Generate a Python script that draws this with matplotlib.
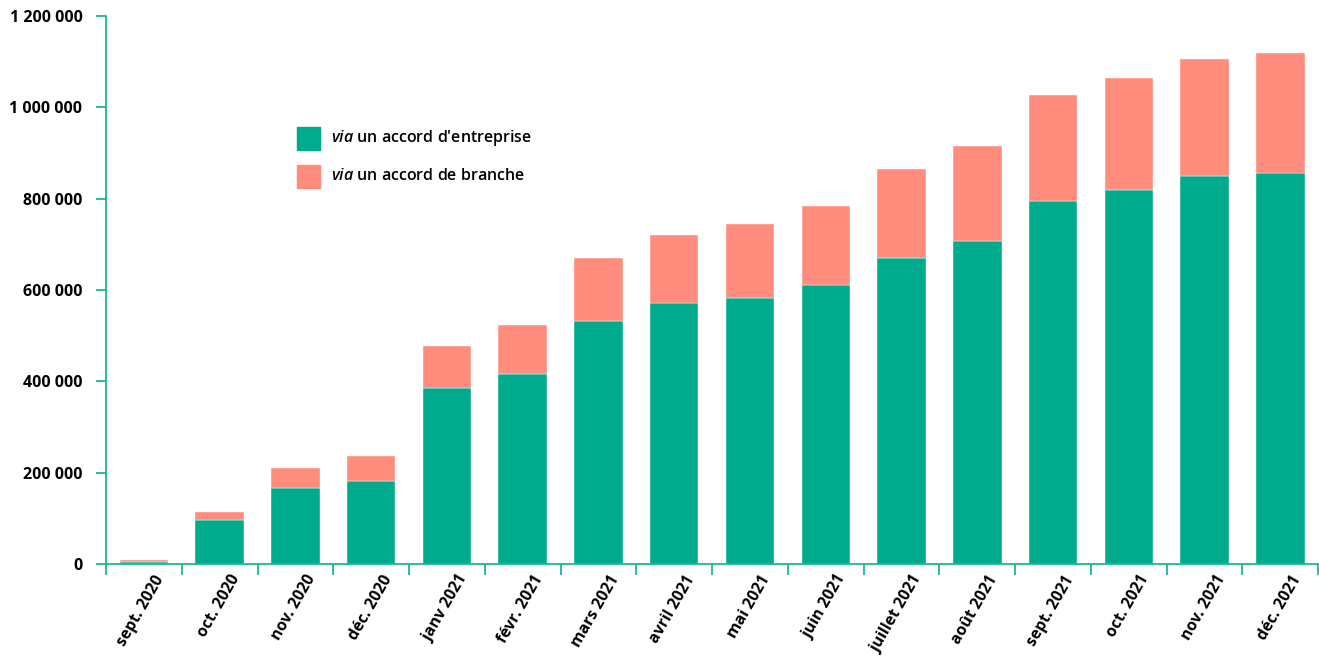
import numpy as np
import matplotlib
matplotlib.use("Agg")
import matplotlib.pyplot as plt
import matplotlib.transforms as mtransforms
from matplotlib.patches import Rectangle
from matplotlib.ticker import FuncFormatter

plt.rcParams['font.family'] = ['Open Sans', 'DejaVu Sans']
plt.rcParams['mathtext.fontset'] = 'custom'
plt.rcParams['mathtext.it'] = 'Open Sans:italic:semibold'
plt.rcParams['mathtext.rm'] = 'Open Sans:semibold'

months = ['sept. 2020', 'oct. 2020', 'nov. 2020', 'déc. 2020',
          'janv 2021', 'févr. 2021', 'mars 2021', 'avril 2021',
          'mai 2021', 'juin 2021', 'juillet 2021', 'août 2021',
          'sept. 2021', 'oct. 2021', 'nov. 2021', 'déc. 2021']
entreprise = [5000, 96000, 167000, 181000, 386000, 415000, 533000, 572000,
              583000, 612000, 671000, 708000, 796000, 820000, 849000, 857000]
total = [8000, 114000, 210000, 236000, 478000, 524000, 671000, 721000,
         745000, 785000, 866000, 916000, 1026000, 1064000, 1105000, 1119000]
branche = [t - e for t, e in zip(total, entreprise)]

GREEN = '#00aa8c'
PINK = '#ff8c7d'
AXIS = '#1db597'

fig = plt.figure(figsize=(13.19, 6.57), dpi=100)
ax = fig.add_axes([0.0804, 0.1416, 0.919, 0.834])

x = np.arange(len(months))
ax.bar(x, entreprise, width=0.64, color=GREEN, edgecolor='white', linewidth=0.3)
ax.bar(x, branche, bottom=entreprise, width=0.64, color=PINK,
       edgecolor='white', linewidth=0.3)

ax.set_xlim(-0.5, len(months) - 0.5)
ax.set_ylim(0, 1200000)

for side in ['top', 'right']:
    ax.spines[side].set_visible(False)
for side in ['left', 'bottom']:
    ax.spines[side].set_color(AXIS)
    ax.spines[side].set_linewidth(1.3)

ax.set_yticks(np.arange(0, 1200001, 200000))
ax.yaxis.set_major_formatter(FuncFormatter(lambda v, p: f"{int(v):,}".replace(',', ' ')))
ax.tick_params(axis='y', length=7, width=1.3, color=AXIS, labelsize=11.5, pad=10)
for lbl in ax.get_yticklabels():
    lbl.set_fontweight('bold')

# labels at bar centres, tick marks on category boundaries
ax.set_xticks(x)
ax.set_xticklabels(months, rotation=60, ha='right', rotation_mode='anchor',
                   fontsize=11.3, fontweight='bold')
ax.tick_params(axis='x', which='major', length=0, pad=6)
shift = mtransforms.ScaledTranslation(10 / 100, 0, fig.dpi_scale_trans)
for lbl in ax.get_xticklabels():
    lbl.set_transform(lbl.get_transform() + shift)
ax.set_xticks(np.arange(-0.5, len(months), 1.0), minor=True)
ax.tick_params(axis='x', which='minor', length=8, width=1.3, color=AXIS)

# legend
items = [(GREEN, r"$\it{via}$ un accord d'entreprise"),
         (PINK, r"$\it{via}$ un accord de branche")]
for i, (col, txt) in enumerate(items):
    y0 = 1 - (127 + 38 * i) / 657
    fig.patches.append(Rectangle((297 / 1319, y0 - 23 / 657), 23 / 1319, 23 / 657,
                                 transform=fig.transFigure, color=col))
    fig.text(331 / 1319, y0 - 11.5 / 657, txt, fontsize=11.5, va='center',
             fontweight='semibold')

fig.savefig('out.png', dpi=100)
